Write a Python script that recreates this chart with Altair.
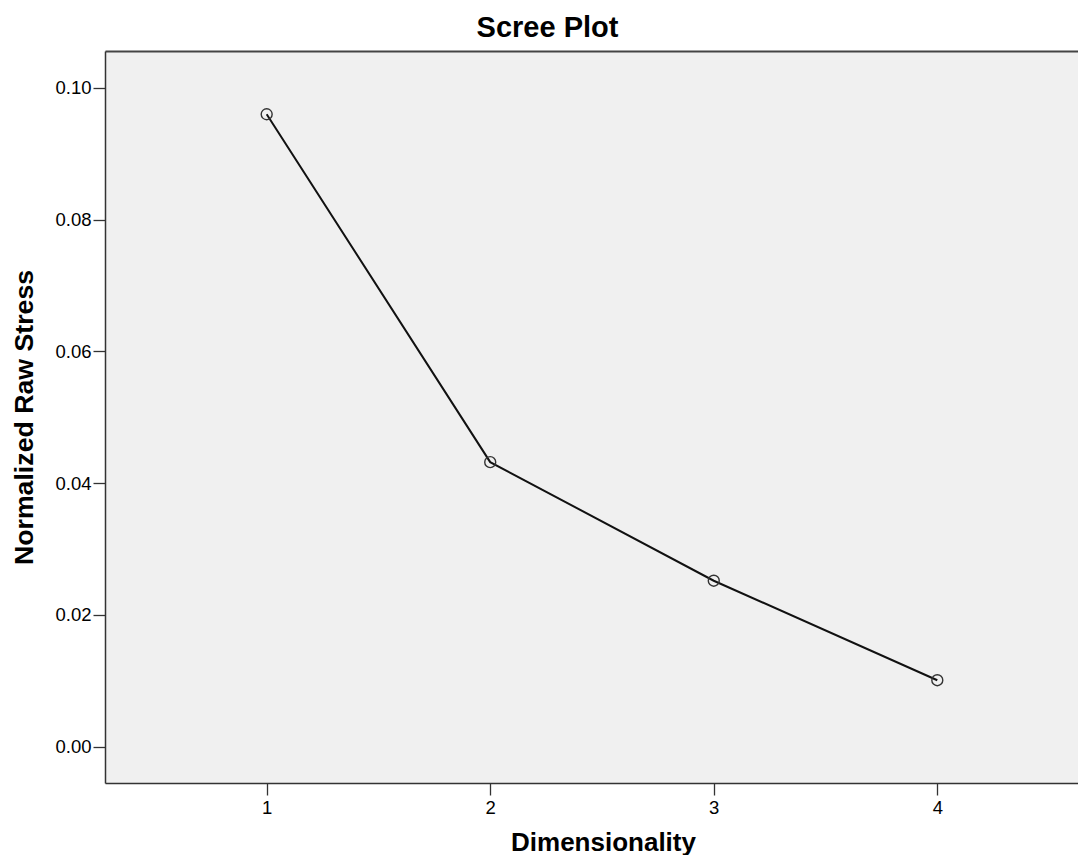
import altair as alt
import pandas as pd

dimensionality = [1, 2, 3, 4]
stress = [0.0960, 0.0432, 0.0252, 0.0101]
x_ticks = [1, 2, 3, 4]
y_ticks = [0.00, 0.02, 0.04, 0.06, 0.08, 0.10]

df = pd.DataFrame({"Dimensionality": dimensionality, "Stress": stress})

FONT = "Liberation Sans"
x_scale = alt.Scale(domain=[0.2767, 4.6294], nice=False, zero=False)
y_scale = alt.Scale(domain=[-0.0055, 0.1056], nice=False, zero=False)

x_bottom = alt.X(
    "Dimensionality:Q", scale=x_scale,
    axis=alt.Axis(
        orient="bottom", values=x_ticks, format="d", title="Dimensionality",
        tickSize=12, tickWidth=1.3, labelPadding=3, labelFontSize=18.5, labelColor="#000",
        labelFont=FONT, titleFont=FONT, titleFontSize=26, titleFontWeight="bold",
        titleColor="#000", titleBaseline="alphabetic", titleX=498, titleY=67,
        domainColor="#333", domainWidth=1.5, tickColor="#333", grid=False, labelFlush=False,
    ),
)
x_top = alt.X(
    "Dimensionality:Q", scale=x_scale,
    axis=alt.Axis(
        orient="top", labels=False, ticks=False, title=None, grid=False,
        domainColor="#444", domainWidth=2,
    ),
)
y_enc = alt.Y(
    "Stress:Q", scale=y_scale,
    axis=alt.Axis(
        values=y_ticks, format=".2f", title="Normalized Raw Stress",
        tickSize=12, tickWidth=1.3, labelPadding=2, labelFontSize=18.5, labelColor="#000",
        labelFont=FONT, titleFont=FONT, titleFontSize=26.7, titleFontWeight="bold",
        titleColor="#000", titleAngle=270, titleBaseline="alphabetic",
        titleAlign="center", titleX=-73, titleY=366,
        domainColor="#333", domainWidth=1.5, tickColor="#333", grid=False, labelFlush=False,
    ),
)

line = alt.Chart(df).mark_line(color="#111111", strokeWidth=2).encode(x=x_bottom, y=y_enc)
pts = alt.Chart(df).mark_point(
    shape="circle", filled=False, size=120, color="#333333", strokeWidth=1.4, opacity=1
).encode(x=x_top, y=y_enc)

chart = (
    alt.layer(line, pts)
    .resolve_axis(x="independent")
    .properties(
        width=973,
        height=732,
        background="white",
        autosize=alt.AutoSizeParams(type="none"),
        padding={"left": 97, "top": 43, "right": 0, "bottom": 72},
        title=alt.TitleParams(
            "Scree Plot", font=FONT, fontSize=29, fontWeight="bold", color="#000",
            anchor="middle", frame="group", dx=-44, dy=29, baseline="alphabetic", offset=14,
        ),
    )
    .configure_view(fill="#f0f0f0", strokeWidth=0)
)

chart.save("out.html", embed_options={"renderer": "svg", "actions": False})
